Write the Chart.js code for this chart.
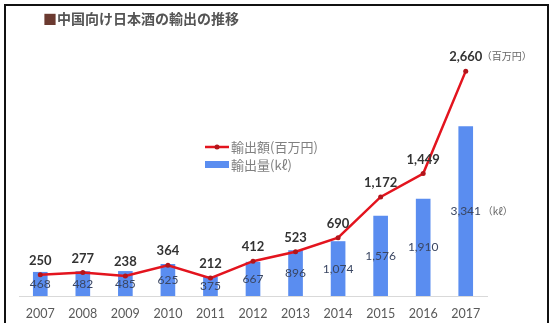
<!DOCTYPE html>
<html>
<head>
<meta charset="utf-8">
<script src="https://cdn.jsdelivr.net/npm/chart.js@4"></script>
<style>
  html, body { margin: 0; padding: 0; background: #fff; }
  #wrap { position: relative; width: 554px; height: 323px; overflow: hidden; }
  #frame { position: absolute; left: 4px; top: 4px; width: 541px; height: 330px;
           border: 2px solid #111; border-bottom: none; }
  #title { position: absolute; left: 43px; top: 8px; font: bold 14px "Noto Sans CJK JP", sans-serif;
           color: #555; letter-spacing: 0px; }
  #title span { color: #6b3a30; }
  canvas { position: absolute; left: 0; top: 0; }
</style>
</head>
<body>
<div id="wrap">
  <canvas id="myChart" width="554" height="323"></canvas>
  <div id="frame"></div>
  <div id="title"><span>■</span>中国向け日本酒の輸出の推移</div>
</div>
<script>
// 中国向け日本酒の輸出
var years = ['2007', '2008', '2009', '2010', '2011', '2012', '2013', '2014', '2015', '2016', '2017'];
var exportValue = [250, 277, 238, 364, 212, 412, 523, 690, 1172, 1449, 2660];   // 輸出額(百万円)
var exportVolume = [468, 482, 485, 625, 375, 667, 896, 1074, 1576, 1910, 3341]; // 輸出量(kℓ)

var numFont = 'Lato, "DejaVu Sans", sans-serif';
var jpFont = '"Noto Sans CJK JP", sans-serif';

function fmt(v){
	return v.toLocaleString('en-US');
}

// value labels + legend drawn on the canvas
var labelPlugin = {
	id: 'labels',
	afterDatasetsDraw: function(chart){
		var ctx = chart.ctx;
		var bars = chart.getDatasetMeta(0).data;
		var pts = chart.getDatasetMeta(1).data;
		ctx.save();
		ctx.textAlign = 'center';
		ctx.textBaseline = 'middle';

		// bar values, centred in each bar
		ctx.font = '12px ' + numFont;
		ctx.fillStyle = '#3a4662';
		for(var i = 0; i < bars.length; i++){
			var b = bars[i];
			var y = (b.y + b.base) / 2;
			ctx.fillText(fmt(exportVolume[i]), b.x, y);
		}
		// unit after the last bar
		var last = bars[bars.length - 1];
		ctx.font = '10px ' + jpFont;
		ctx.fillStyle = '#666';
		ctx.textAlign = 'left';
		ctx.fillText('（kℓ）', last.x + 17, (last.y + last.base) / 2);

		// line values above each point
		ctx.textAlign = 'center';
		ctx.font = 'bold 13px ' + numFont;
		ctx.fillStyle = '#333';
		for(var j = 0; j < pts.length; j++){
			ctx.fillText(fmt(exportValue[j]), pts[j].x, pts[j].y - 14);
		}
		var lp = pts[pts.length - 1];
		ctx.font = '10px ' + jpFont;
		ctx.fillStyle = '#666';
		ctx.textAlign = 'left';
		ctx.fillText('（百万円）', lp.x + 16, lp.y - 15);

		// legend
		ctx.strokeStyle = '#e3141e';
		ctx.lineWidth = 2.5;
		ctx.beginPath();
		ctx.moveTo(205, 147);
		ctx.lineTo(229, 147);
		ctx.stroke();
		ctx.fillStyle = '#b3151b';
		ctx.beginPath();
		ctx.arc(217, 147, 2.5, 0, Math.PI * 2);
		ctx.fill();
		ctx.fillStyle = '#5a8df0';
		ctx.fillRect(205, 161, 24, 7);
		ctx.font = '13px ' + jpFont;
		ctx.fillStyle = '#808080';
		ctx.fillText(chart.data.datasets[1].label, 231, 147);
		ctx.fillText(chart.data.datasets[0].label, 231, 165);
		ctx.restore();
	}
};

var ctx = document.getElementById('myChart');
var myChart = new Chart(ctx, {
	type: 'bar',
	data: {
		labels: years,
		datasets: [
			{
				type: 'bar',
				label: '輸出量(kℓ)',
				data: exportVolume,
				backgroundColor: '#5a8df0',
				barThickness: 14,
				yAxisID: 'y',
				order: 2
			},
			{
				type: 'line',
				label: '輸出額(百万円)',
				data: exportValue,
				borderColor: '#e3141e',
				borderWidth: 2.5,
				pointRadius: 2.5,
				pointBackgroundColor: '#b3151b',
				pointBorderWidth: 0,
				tension: 0,
				yAxisID: 'y1',
				order: 1
			}
		]
	},
	options: {
		responsive: false,
		animation: false,
		layout: { padding: { left: 19, right: 67, top: 50, bottom: 0 } },
		plugins: {
			legend: { display: false },
			tooltip: { enabled: false }
		},
		scales: {
			x: {
				grid: { display: false },
				border: { color: '#d9d9d9', width: 1 },
				ticks: { color: '#595959', font: { family: numFont, size: 12.5 }, padding: 2 },
				afterFit: function(scale){ scale.height = 27; }
			},
			y: { display: false, min: 0, max: 4850 },
			y1: { display: false, min: 0, max: 2910 }
		}
	},
	plugins: [labelPlugin]
});
</script>
</body>
</html>
